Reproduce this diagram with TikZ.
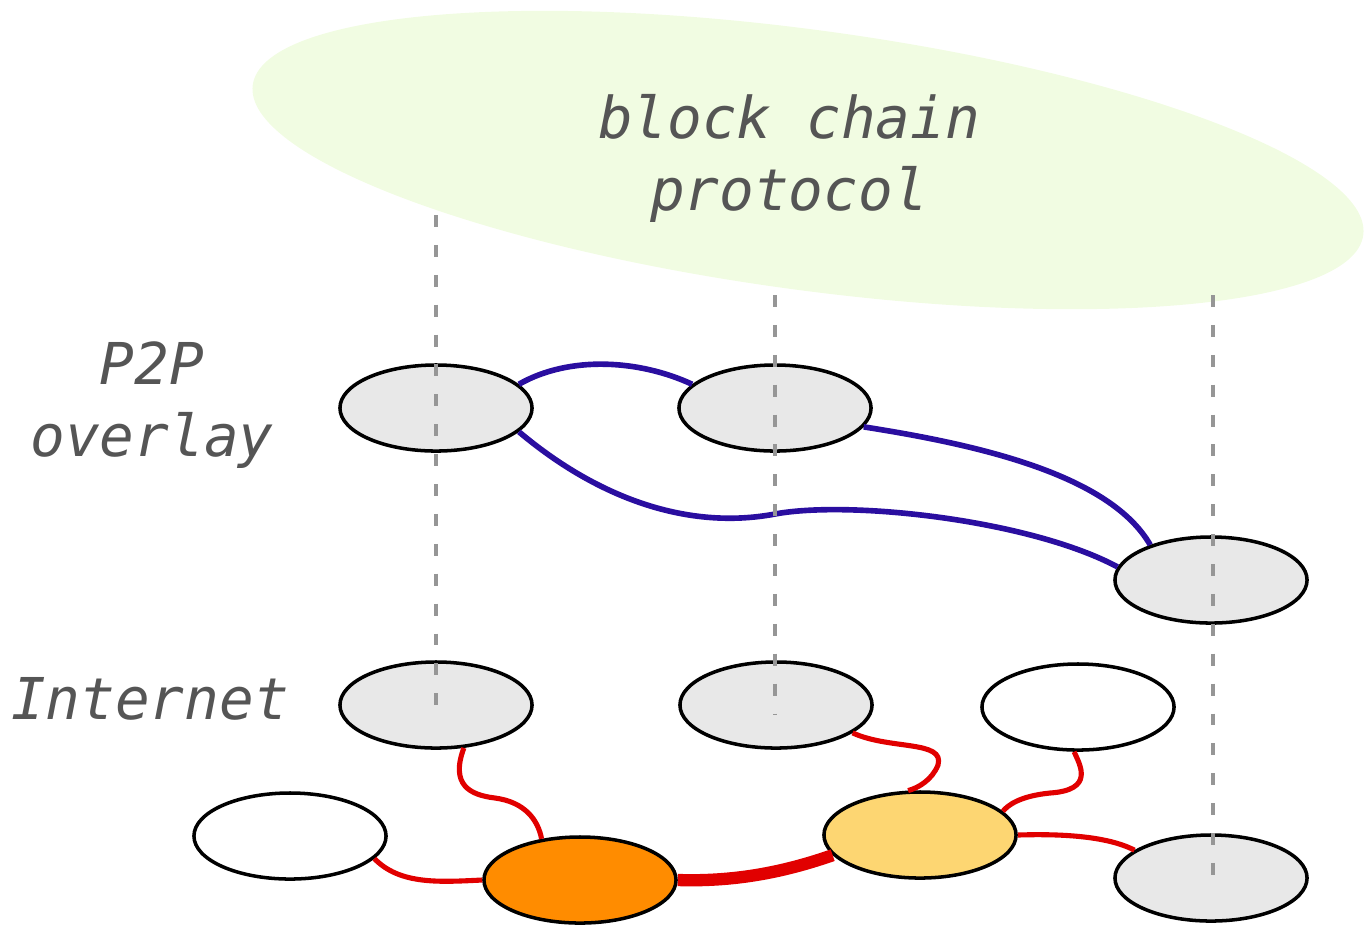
\documentclass[tikz,border=0pt]{standalone}
\usepackage{fontspec}
\setmonofont{DejaVu Sans Mono}
\usetikzlibrary{shapes.geometric}
\definecolor{hostgray}{RGB}{232,232,232}
\definecolor{hubsorange}{RGB}{255,140,0}
\definecolor{hubyellow}{RGB}{253,214,114}
\definecolor{chaingreen}{RGB}{241,252,226}
\definecolor{overlayblue}{RGB}{42,14,160}
\definecolor{linkred}{RGB}{225,0,0}
\definecolor{mapgray}{RGB}{150,150,150}
\definecolor{labelgray}{RGB}{85,85,85}
\tikzstyle{host}=[ellipse,draw=black,line width=1pt,fill=hostgray,minimum width=1.92cm,minimum height=.86cm,inner sep=0pt]
\tikzstyle{idle}=[host,fill=white]
\tikzstyle{ovl}=[draw=overlayblue,line width=1.6pt]
\tikzstyle{net}=[draw=linkred,line width=1.45pt]
\tikzstyle{vmap}=[draw=mapgray,line width=1.4pt,dash pattern=on 3.4pt off 5.1pt]
\tikzstyle{lbl}=[font=\fontsize{16.4}{20.5}\selectfont\ttfamily\itshape,text=labelgray,align=center,inner sep=0pt]
\begin{document}
\begin{tikzpicture}[x=0.01cm,y=-0.01cm]
\useasboundingbox (0,0) rectangle (1367,926);
\node[ellipse,fill=chaingreen,minimum width=11.2cm,minimum height=2.6cm,rotate=-7.7] (chain) at (808,160) {};
\node[lbl] (proto) at (789,158) {block chain\\protocol};
\node[lbl] (p2p) at (152,405) {P2P\\overlay};
\node[lbl] (inet) at (150,699) {Internet};
% overlay peers
\node[host] (a) at (436,408) {};
\node[host] (b) at (775,408) {};
\node[host] (c) at (1211,580) {};
% internet hosts
\node[host] (d) at (436,705) {};
\node[host] (e) at (776,705) {};
\node[idle] (f) at (1078,707) {};
\node[idle] (g) at (290,836) {};
\node[host,fill=hubsorange] (h) at (580,880) {};
\node[host,fill=hubyellow] (i) at (920,835) {};
\node[host] (j) at (1211,878) {};
% overlay links
\draw[ovl] (a.16) .. controls (570,355) and (640,360) .. (b.164);
\draw[ovl] (a.-16) .. controls (600,500) and (690,530) .. (775,514) .. controls (850,500) and (1030,520) .. (c.172);
\draw[ovl] (b.-12) .. controls (980,445) and (1110,475) .. (c.150);
% physical links
\draw[net] (d.-57) .. controls (450,785) and (470,795) .. (495,798) .. controls (525,802) and (538,820) .. (h.133);
\draw[net] (g.-15) .. controls (400,885) and (440,882) .. (h.180);
\draw[net,line width=3.5pt] (h.0) .. controls (740,882) and (790,870) .. (i.193);
\draw[net] (e.-20) .. controls (890,750) and (945,740) .. (938,765) .. controls (932,780) and (918,788) .. (i.105);
\draw[net] (f.265) .. controls (1080,765) and (1095,790) .. (1050,793) .. controls (1020,796) and (1008,805) .. (i.16);
\draw[net] (i.0) .. controls (1080,833) and (1115,840) .. (j.160);
% mapping
\coordinate (t1) at (436,215);
\coordinate (t2) at (775,295);
\coordinate (t3) at (1213,295);
\coordinate (b1) at (436,715);
\coordinate (b2) at (775,715);
\coordinate (b3) at (1213,885);
\draw[vmap] (t1) -- (b1);
\draw[vmap] (t2) -- (b2);
\draw[vmap] (t3) -- (b3);
\end{tikzpicture}
\end{document}
